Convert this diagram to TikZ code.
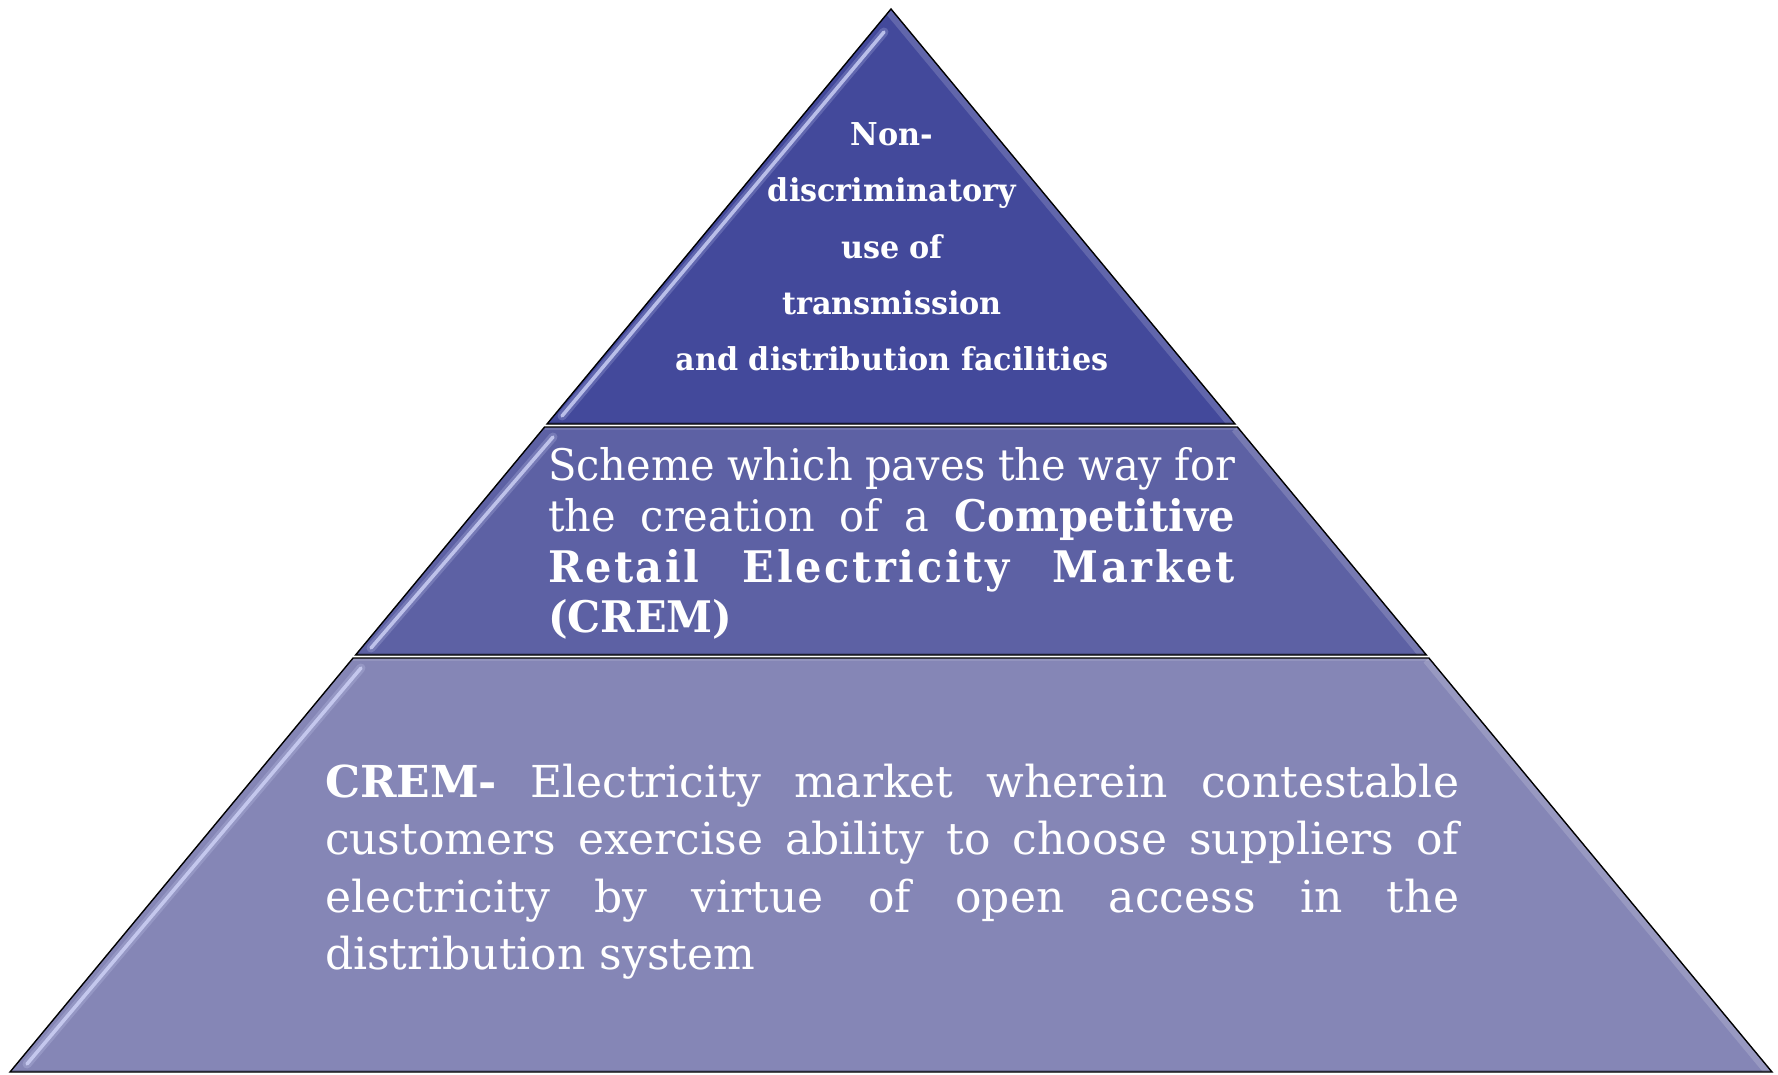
\documentclass[tikz,border=0pt]{standalone}
\usepackage{fontspec}
\setmainfont{DejaVu Serif}
\definecolor{tierA}{RGB}{67,73,155}
\definecolor{tierB}{RGB}{93,97,164}
\definecolor{tierC}{RGB}{133,134,182}
\definecolor{hilite}{RGB}{208,212,248}
\begin{document}
\begin{tikzpicture}[x=1pt,y=-1pt,
  tierline/.style={draw=black,line width=1.4pt,line join=miter},
  hl/.style={draw=hilite,line width=3.5pt,line cap=round,opacity=.8},
  hlsoft/.style={draw=hilite,line width=9pt,line cap=round,opacity=.22},
  rim/.style={draw=white,line width=14pt,opacity=.16},
  botrim/.style={draw=black,line width=5pt,opacity=.18},
  txt/.style={text=white,inner sep=0pt,outer sep=0pt},
  toptxt/.style={txt,anchor=base,font=\bfseries\fontsize{31.5}{38}\selectfont\addfontfeature{FakeStretch=0.96}},
  midtxt/.style={txt,anchor=base west,font=\fontsize{43.5}{50}\selectfont\addfontfeature{FakeStretch=0.955}},
  bottxt/.style={txt,anchor=base west,font=\fontsize{44}{57}\selectfont}]
\useasboundingbox (0,0) rectangle (1778,1074);

% geometry
\coordinate (apex) at (891,9);
\coordinate (aL) at (547,424);   \coordinate (aR) at (1235,424);
\coordinate (bTL) at (544.6,427); \coordinate (bTR) at (1237.4,427);
\coordinate (bBL) at (355.6,655); \coordinate (bBR) at (1426.4,655);
\coordinate (cTL) at (353.1,658); \coordinate (cTR) at (1428.9,658);
\coordinate (cBL) at (10,1072);   \coordinate (cBR) at (1772,1072);

% top tier
\fill[tierA] (apex) -- (aR) -- (aL) -- cycle;
\begin{scope}
  \clip (apex) -- (aR) -- (aL) -- cycle;
  \draw[rim] (apex) -- (aR);
  \draw[botrim] (aL) -- (aR);
  \draw[hlsoft] (884,32) -- (562,416);
  \draw[hl] (884,32) -- (562,416);
\end{scope}
\draw[tierline] (apex) -- (aR) -- (aL) -- cycle;

% middle tier
\fill[tierB] (bTL) -- (bTR) -- (bBR) -- (bBL) -- cycle;
\begin{scope}
  \clip (bTL) -- (bTR) -- (bBR) -- (bBL) -- cycle;
  \draw[rim] (bTR) -- (bBR);
  \draw[botrim] (bBL) -- (bBR);
  \draw[draw=white,line width=6pt,opacity=.12] (bTL) -- (bTR);
  \draw[hlsoft] (553,437) -- (371,648);
  \draw[hl] (553,437) -- (371,648);
\end{scope}
\draw[tierline] (bTL) -- (bTR) -- (bBR) -- (bBL) -- cycle;

% bottom tier
\fill[tierC] (cTL) -- (cTR) -- (cBR) -- (cBL) -- cycle;
\begin{scope}
  \clip (cTL) -- (cTR) -- (cBR) -- (cBL) -- cycle;
  \draw[rim] (cTR) -- (cBR);
  \draw[botrim] (cBL) -- (cBR);
  \draw[draw=white,line width=6pt,opacity=.12] (cTL) -- (cTR);
  \draw[hlsoft] (361,668) -- (27,1064);
  \draw[hl] (361,668) -- (27,1064);
\end{scope}
\draw[tierline] (cTL) -- (cTR) -- (cBR) -- (cBL) -- cycle;

% top text
\node[toptxt] (t1) at (892,145) {Non-};
\node[toptxt] (t2) at (892,201.5) {discriminatory};
\node[toptxt] (t3) at (892,258) {use of};
\node[toptxt] (t4) at (892,314.5) {transmission};
\node[toptxt] (t5) at (892,370.5) {and distribution facilities};

% middle text
\node[midtxt] (m1) at (548,480.5) {\makebox[687pt][s]{Scheme which paves the way for}};
\node[midtxt] (m2) at (548,531.5) {\makebox[687pt][s]{the creation of a \textbf{Competitive}}};
\node[midtxt] (m3) at (548,582) {\makebox[687pt][s]{\bfseries\addfontfeature{LetterSpace=6}Retail Electricity Market}};
\node[midtxt] (m4) at (548,632.5) {\textbf{(CREM)}};

% bottom text
\node[bottxt] (b1) at (325,797) {\makebox[1134pt][s]{\textbf{CREM-} Electricity market wherein contestable}};
\node[bottxt] (b2) at (325,854.5) {\makebox[1134pt][s]{customers exercise ability to choose suppliers of}};
\node[bottxt] (b3) at (325,912) {\makebox[1134pt][s]{electricity by virtue of open access in the}};
\node[bottxt] (b4) at (325,969.5) {distribution system};
\end{tikzpicture}
\end{document}
